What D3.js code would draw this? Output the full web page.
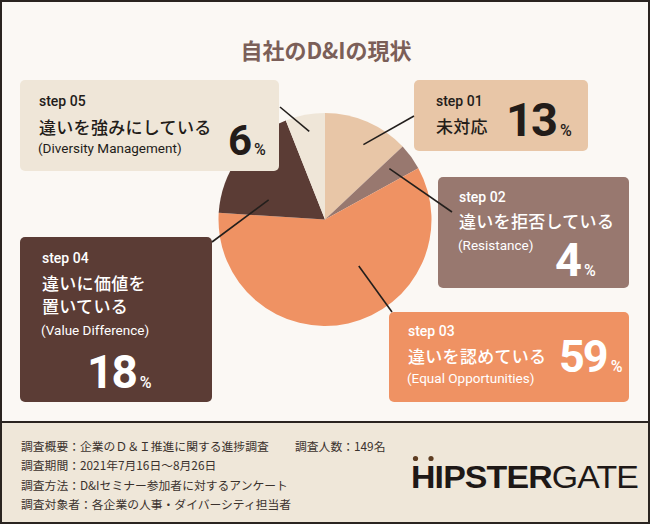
<!DOCTYPE html>
<html>
<head>
<meta charset="utf-8">
<script src="https://cdn.jsdelivr.net/npm/d3@7"></script>
<style>
	body { margin: 0; background: #fbf8f4; }
	svg { display: block; }
	.jp { font-family: "Noto Sans CJK JP", sans-serif; }
	.lat { font-family: Roboto, "Noto Sans", sans-serif; }
</style>
</head>
<body>
<svg id="chart" width="650" height="524"></svg>
<script>
// data
const title = "自社のD&Iの現状";
const steps = ["step 01", "step 02", "step 03", "step 04", "step 05"];
const jpLabels = [["未対応"], ["違いを拒否している"], ["違いを認めている"], ["違いに価値を", "置いている"], ["違いを強みにしている"]];
const enLabels = ["", "(Resistance)", "(Equal Opportunities)", "(Value Difference)", "(Diversity Management)"];
const shares = [13, 4, 59, 18, 6];
const footerLines = [
	"調査概要：企業のＤ＆Ｉ推進に関する進捗調査",
	"調査期間：2021年7月16日〜8月26日",
	"調査方法：D&Iセミナー参加者に対するアンケート",
	"調査対象者：各企業の人事・ダイバーシティ担当者"
];
const footerExtra = "調査人数：149名";

// styles
const fillColor = d3.scaleOrdinal()
	.domain(steps)
	.range(["#e8c6a7", "#98786f", "#ef9263", "#5b3c35", "#efe6d8"]);
const textColor = d3.scaleOrdinal()
	.domain(steps)
	.range(["#231c19", "#ffffff", "#ffffff", "#ffffff", "#231c19"]);

// box layout per step (x, y, w, h, text left, baselines, big number, leader anchor)
const boxLayout = {
	"step 01": { x: 414, y: 80, w: 174, h: 71, tx: 436, stepY: 106, jpY: [133], enY: null, numX: 506, numY: 136, numSize: 47, t: 0.58, r: 0.79, end: [414, 116] },
	"step 02": { x: 438, y: 177, w: 191, h: 111, tx: 459, stepY: 202, jpY: [228], enY: 250, numX: 555, numY: 276, numSize: 47, t: 0.34, r: 0.77, end: [452, 212] },
	"step 03": { x: 389, y: 312, w: 240, h: 90, tx: 408, stepY: 336, jpY: [363], enY: 383, numX: 559, numY: 372, numSize: 45, t: 0.39, r: 0.54, end: [392, 312] },
	"step 04": { x: 20, y: 237, w: 192, h: 165, tx: 42, stepY: 263, jpY: [290, 313], enY: 335, numX: 87, numY: 388, numSize: 46, t: 0.24, r: 0.56, end: [212, 242] },
	"step 05": { x: 20, y: 80, w: 259, h: 91, tx: 39, stepY: 106, jpY: [134], enY: 153, numX: 228, numY: 155, numSize: 42, t: 0.53, r: 0.84, end: [280, 107] }
};

const W = 650, H = 524;
const cx = 325, cy = 219.5, radius = 106.5;
const footerTop = 422;

const svg = d3.select("svg#chart");

// background and frame
svg.append("rect").attr("width", W).attr("height", H).attr("fill", "#fbf8f4");
svg.append("rect")
	.attr("x", 0).attr("y", footerTop).attr("width", W).attr("height", H - footerTop)
	.attr("fill", "#efe7d9");
svg.append("line")
	.attr("x1", 0).attr("x2", W).attr("y1", footerTop).attr("y2", footerTop)
	.attr("stroke", "#2a2420").attr("stroke-width", 2);
svg.append("rect")
	.attr("x", 1).attr("y", 1).attr("width", W - 2).attr("height", H - 2)
	.attr("fill", "none").attr("stroke", "#2a2420").attr("stroke-width", 2);

// title
svg.append("text")
	.classed("jp", true)
	.attr("x", 326).attr("y", 59)
	.attr("text-anchor", "middle")
	.attr("font-size", 22).attr("font-weight", 700)
	.attr("fill", "#7b5f58")
	.text(title);

// pie
const pieData = d3.pie().sort(null).value((d) => d.value)(
	steps.map((s, i) => ({ step: s, value: shares[i] }))
);
const arc = d3.arc().innerRadius(0).outerRadius(radius);

const pieG = svg.append("g").attr("transform", `translate(${cx},${cy})`);
pieG.selectAll("path")
	.data(pieData)
	.join("path")
	.attr("d", arc)
	.attr("fill", (d) => fillColor(d.data.step));

// label boxes
const boxes = svg.selectAll("g.box")
	.data(pieData)
	.join("g")
	.classed("box", true);

boxes.append("rect")
	.attr("x", (d) => boxLayout[d.data.step].x)
	.attr("y", (d) => boxLayout[d.data.step].y)
	.attr("width", (d) => boxLayout[d.data.step].w)
	.attr("height", (d) => boxLayout[d.data.step].h)
	.attr("rx", 5)
	.attr("fill", (d) => fillColor(d.data.step));

boxes.append("text")
	.classed("lat", true)
	.attr("x", (d) => boxLayout[d.data.step].tx)
	.attr("y", (d) => boxLayout[d.data.step].stepY)
	.attr("font-size", 14).attr("font-weight", 500)
	.attr("fill", (d) => textColor(d.data.step))
	.text((d) => d.data.step);

boxes.each(function (d, i) {
	const g = d3.select(this);
	const L = boxLayout[d.data.step];
	jpLabels[i].forEach((line, k) => {
		g.append("text")
			.classed("jp", true)
			.attr("x", L.tx).attr("y", L.jpY[k])
			.attr("font-size", 17).attr("font-weight", 500)
			.attr("letter-spacing", 0.3)
			.attr("fill", textColor(d.data.step))
			.text(line);
	});
	if (enLabels[i]) {
		g.append("text")
			.classed("lat", true)
			.attr("x", L.tx - 1).attr("y", L.enY)
			.attr("font-size", 13.5)
			.attr("fill", textColor(d.data.step))
			.text(enLabels[i]);
	}
	const num = g.append("text")
		.classed("lat", true)
		.attr("x", L.numX).attr("y", L.numY)
		.attr("fill", textColor(d.data.step))
		.attr("font-weight", 700);
	num.append("tspan").attr("font-size", L.numSize).attr("letter-spacing", -2).text(shares[i]);
	num.append("tspan").attr("font-size", 16).attr("dx", 4).attr("font-weight", 500).text("%");
});

// leader lines from inside each slice to its box
svg.selectAll("line.leader")
	.data(pieData)
	.join("line")
	.classed("leader", true)
	.each(function (d) {
		const L = boxLayout[d.data.step];
		const a = d.startAngle + (d.endAngle - d.startAngle) * L.t;
		const rr = radius * L.r;
		d3.select(this)
			.attr("x1", cx + rr * Math.sin(a))
			.attr("y1", cy - rr * Math.cos(a))
			.attr("x2", L.end[0])
			.attr("y2", L.end[1]);
	})
	.attr("stroke", "#231f1c")
	.attr("stroke-width", 1.6);

// footer notes
svg.selectAll("text.note")
	.data(footerLines)
	.join("text")
	.classed("note jp", true)
	.attr("x", 21)
	.attr("y", (d, i) => 451 + i * 19.4)
	.attr("font-size", 11.8)
	.attr("fill", "#3b322d")
	.text((d) => d);
svg.append("text")
	.classed("jp", true)
	.attr("x", 295).attr("y", 451)
	.attr("font-size", 11.8)
	.attr("fill", "#3b322d")
	.text(footerExtra);

// logo
const logo = svg.append("text")
	.attr("x", 411).attr("y", 488)
	.attr("font-family", "'Liberation Sans', Arial, sans-serif")
	.attr("font-size", 31)
	.attr("fill", "#1e1816")
	.attr("letter-spacing", -0.8)
	.attr("textLength", 227)
	.attr("lengthAdjust", "spacingAndGlyphs");
logo.append("tspan").attr("font-weight", 700).text("HIPSTER");
logo.append("tspan").attr("font-weight", 400).text("GATE");
svg.selectAll("circle.dot")
	.data([415.5, 431])
	.join("circle")
	.classed("dot", true)
	.attr("cx", (d) => d)
	.attr("cy", 458.5)
	.attr("r", 2.6)
	.attr("fill", "#5e3d22");
</script>
</body>
</html>
